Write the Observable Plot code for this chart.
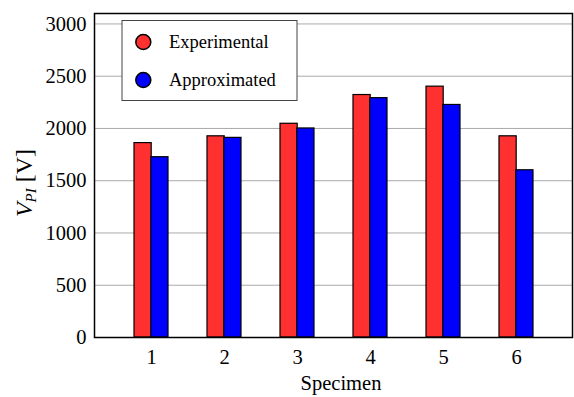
<!DOCTYPE html>
<html><head><meta charset="utf-8">
<script src="https://cdn.jsdelivr.net/npm/d3@7"></script>
<script src="https://cdn.jsdelivr.net/npm/@observablehq/plot@0.6"></script>
<style>body{margin:0;background:#fff}</style>
</head><body><div id="chart"></div>
<script>
const specimens = ["1", "2", "3", "4", "5", "6"];
const experimental = [1860, 1925, 2045, 2320, 2400, 1925];
const approximated = [1725, 1910, 2000, 2290, 2225, 1600];
const seriesNames = ["Experimental", "Approximated"];
const seriesColors = ["#ff3030", "#0000ff"];
const yTicks = [0, 500, 1000, 1500, 2000, 2500, 3000];

const W = 574, H = 397, mL = 94, mR = 2, mT = 13, mB = 60;
const pad = 0.54;
const step = (W - mL - mR) / (specimens.length - pad + 2 * pad);
const bw = step * (1 - pad);
const FONT = "'Liberation Serif', 'Times New Roman', serif";

const data = specimens.map((s, i) => ({specimen: s, exp: experimental[i], app: approximated[i]}));

const chart = Plot.plot({
  width: W, height: H,
  marginLeft: mL, marginRight: mR, marginTop: mT, marginBottom: mB,
  style: {fontFamily: FONT, fontSize: "20.5px", color: "#000", background: "#fff"},
  x: {domain: specimens, padding: pad, label: null, tickSize: 0, tickPadding: 12},
  y: {domain: [0, 3100], ticks: yTicks, tickFormat: d3.format("d"), label: null, tickSize: 0, tickPadding: 8},
  marks: [
    Plot.ruleY(yTicks.slice(1), {stroke: "#aaa", strokeWidth: 1}),
    Plot.barY(data, {x: "specimen", y: "exp", fill: seriesColors[0], stroke: "#000", strokeWidth: 1.2, insetRight: bw / 2}),
    Plot.barY(data, {x: "specimen", y: "app", fill: seriesColors[1], stroke: "#000", strokeWidth: 1.2, insetLeft: bw / 2}),
    Plot.frame({stroke: "#000", strokeWidth: 1.5})
  ]
});
document.getElementById("chart").appendChild(chart);

const svg = d3.select(chart.tagName.toLowerCase() === "svg" ? chart : chart.querySelector("svg"));
svg.selectAll("text").style("font-family", FONT).style("font-size", "20.5px").style("fill", "#000");

// legend
const lg = svg.append("g").attr("font-family", FONT).attr("text-anchor", "start");
lg.append("rect").attr("x", 122).attr("y", 20.5).attr("width", 175).attr("height", 80)
  .attr("fill", "#fff").attr("stroke", "#444").attr("stroke-width", 1);
seriesNames.forEach((n, i) => {
  const cy = 42 + i * 38;
  lg.append("circle").attr("cx", 143.3).attr("cy", cy).attr("r", 7.5)
    .attr("fill", seriesColors[i]).attr("stroke", "#000").attr("stroke-width", 1.5);
  lg.append("text").attr("x", 169).attr("y", cy).attr("dy", "0.35em").attr("text-anchor", "start")
    .style("font-size", "18.5px").style("font-family", FONT).attr("fill", "#000").text(n);
});

// x label
svg.append("text").attr("x", 341).attr("y", 390)
  .attr("text-anchor", "middle").style("font-family", FONT).style("font-size", "20.5px").attr("fill", "#000").text("Specimen");

// y label
const yl = svg.append("text").attr("transform", "translate(32,183) rotate(-90)")
  .attr("text-anchor", "middle").style("font-family", FONT).style("font-size", "24px").attr("fill", "#000");
yl.append("tspan").attr("font-style", "italic").text("V");
yl.append("tspan").attr("font-style", "italic").style("font-size", "15px").attr("dy", 4).text("PI");
yl.append("tspan").attr("dy", -4).text(" [V]");
</script>
</body></html>
